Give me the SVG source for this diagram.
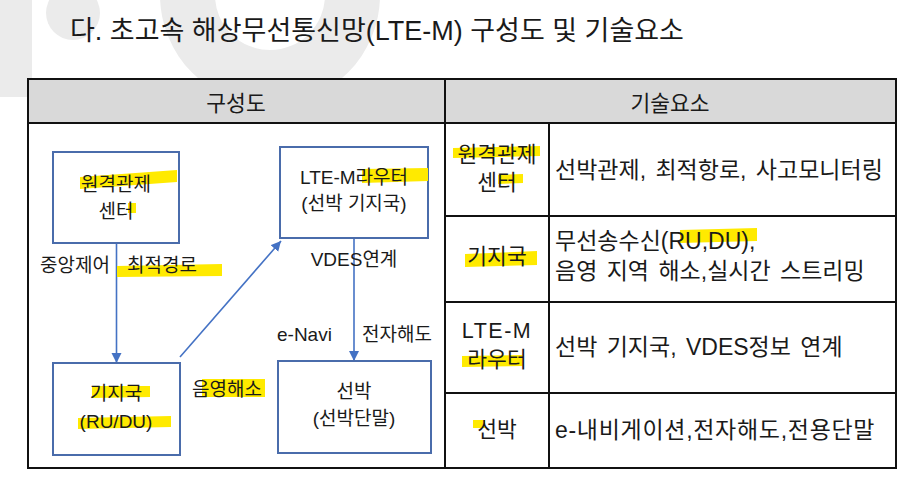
<svg xmlns="http://www.w3.org/2000/svg" width="909" height="486" viewBox="0 0 909 486">
<style>
  text { font-family: "Liberation Sans", "Noto Sans CJK KR", sans-serif; fill: #1a1a1a; }
  .title { font-size: 27px; }
  .hdr { font-size: 21.5px; text-anchor: middle; }
  .box { fill: #ffffff; stroke: #4a6cab; stroke-width: 2; }
  .bt { font-size: 19px; text-anchor: middle; }
  .lbl { font-size: 19px; }
  .rl { font-size: 21.5px; text-anchor: middle; }
  .rc { font-size: 23px; }
  .hl { fill: #ffea00; }
  .wm { fill: #ebebeb; }
  .tline { stroke: #111; stroke-width: 2; fill: none; }
  .conn { stroke: #4472c4; stroke-width: 1.6; fill: none; marker-end: url(#arr); }
</style>
<defs>
  <marker id="arr" markerUnits="userSpaceOnUse" markerWidth="11" markerHeight="11" refX="10" refY="5" orient="auto">
    <path d="M0,0 L10,5 L0,10 z" fill="#4472c4"/>
  </marker>
</defs>
<rect x="0" y="0" width="909" height="486" fill="#ffffff"/>
<g id="watermark">
  <rect class="wm" x="0" y="0" width="32" height="97"/>
  <circle class="wm" cx="73" cy="13" r="27"/>
  <path class="wm" fill-rule="evenodd" d="M160,-5 a110,110 0 1,0 220,0 a110,110 0 1,0 -220,0 z M215,-5 a55,55 0 1,0 110,0 a55,55 0 1,0 -110,0 z"/>
</g>
<text class="title" x="70" y="40">다. 초고속 해상무선통신망(LTE-M) 구성도 및 기술요소</text>
<g id="table">
  <rect x="28" y="79" width="868" height="44" fill="#d9d9d9"/>
  <rect class="tline" x="28" y="79" width="868" height="389"/>
  <line class="tline" x1="28" y1="123" x2="896" y2="123"/>
  <line class="tline" x1="445" y1="79" x2="445" y2="468"/>
  <line class="tline" x1="549" y1="123" x2="549" y2="468"/>
  <line class="tline" x1="445" y1="216" x2="896" y2="216"/>
  <line class="tline" x1="445" y1="302" x2="896" y2="302"/>
  <line class="tline" x1="445" y1="393" x2="896" y2="393"/>
  <text class="hdr" x="236" y="111">구성도</text>
  <text class="hdr" x="670" y="111">기술요소</text>
</g>
<g id="table-rows">
  <polygon class="hl" points="453,148 540,146 540,156 453,158"/>
  <polygon class="hl" points="498,175 523,174 523,183 498,184"/>
  <text class="rl" x="497" y="162">원격관제</text>
  <text class="rl" x="497" y="190">센터</text>
  <text class="rc" x="555" y="178" word-spacing="3">선박관제, 최적항로, 사고모니터링</text>

  <polygon class="hl" points="465,254 537,251 537,265 465,267"/>
  <polygon class="hl" points="680,230 757,228 757,241 680,243"/>
  <text class="rl" x="497" y="264">기지국</text>
  <text class="rc" x="555" y="249">무선송수신(RU,DU),</text>
  <text class="rc" x="555" y="279" word-spacing="3">음영 지역 해소,실시간 스트리밍</text>

  <polygon class="hl" points="462,356 523,355 523,366 462,367"/>
  <text class="rl" x="497" y="338" letter-spacing="1.5">LTE-M</text>
  <text class="rl" x="497" y="367">라우터</text>
  <text class="rc" x="555" y="355" word-spacing="3">선박 기지국, VDES정보 연계</text>

  <rect class="hl" x="473" y="420" width="12" height="8"/>
  <text class="rl" x="497" y="437">선박</text>
  <text class="rc" x="555" y="438" letter-spacing="0.7">e-내비게이션,전자해도,전용단말</text>
</g>
<g id="connectors">
  <line class="conn" x1="116.5" y1="243" x2="116.5" y2="363"/>
  <line class="conn" x1="180" y1="357" x2="281" y2="241"/>
  <line class="conn" x1="354" y1="238" x2="354" y2="361"/>
</g>
<g id="node-control-center">
  <rect class="box" x="53" y="152" width="126" height="91"/>
  <polygon class="hl" points="80,177 177,170 177,182 80,189"/>
  <rect class="hl" x="128" y="203" width="8" height="10"/>
  <text class="bt" x="116" y="191">원격관제</text>
  <text class="bt" x="116" y="218">센터</text>
</g>
<g id="node-lte-router">
  <rect class="box" x="280" y="147" width="148" height="91"/>
  <polygon class="hl" points="362,169 428,168 428,181 362,183"/>
  <text class="bt" x="354" y="184">LTE-M라우터</text>
  <text class="bt" x="354" y="210">(선박 기지국)</text>
</g>
<g id="node-base-station">
  <rect class="box" x="53" y="363" width="127" height="92"/>
  <polygon class="hl" points="92,386 150,386 150,397 92,398"/>
  <polygon class="hl" points="78,418 171,416 171,427 78,429"/>
  <text class="bt" x="116" y="400">기지국</text>
  <text class="bt" x="116" y="428">(RU/DU)</text>
</g>
<g id="node-ship">
  <rect class="box" x="278" y="361" width="153" height="92"/>
  <text class="bt" x="354" y="398">선박</text>
  <text class="bt" x="354" y="425">(선박단말)</text>
</g>
<g id="edge-labels">
  <polygon class="hl" points="117,266 222,264 222,276 117,277"/>
  <rect class="hl" x="202" y="379" width="63" height="18"/>
  <text class="lbl" x="40" y="272">중앙제어</text>
  <text class="lbl" x="127" y="272">최적경로</text>
  <text class="lbl" x="354" y="266" text-anchor="middle">VDES연계</text>
  <text class="lbl" x="277" y="341">e-Navi</text>
  <text class="lbl" x="362" y="341">전자해도</text>
  <text class="lbl" x="192" y="396">음영해소</text>
</g>
</svg>
